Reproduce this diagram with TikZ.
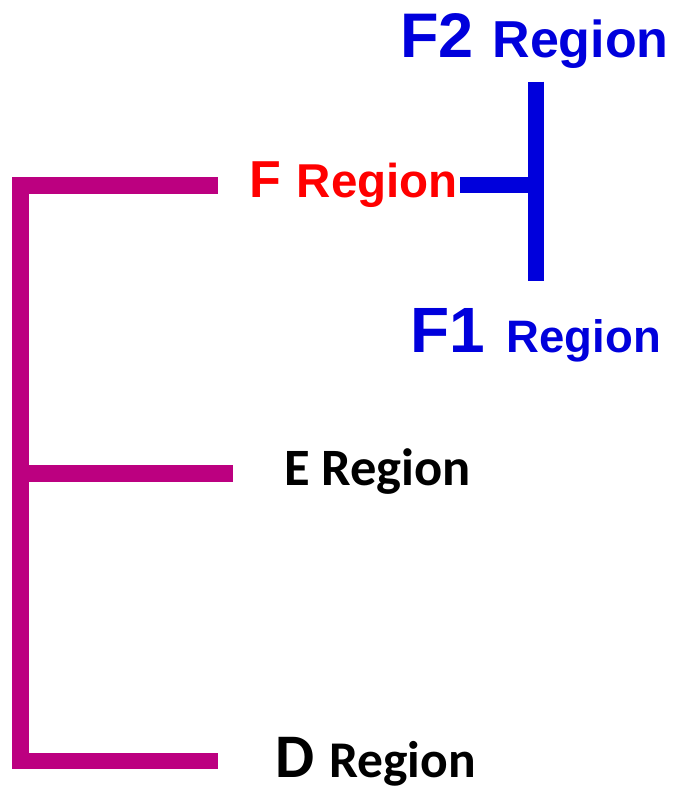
\documentclass[tikz,border=0pt]{standalone}
\usepackage{fontspec}
\setmainfont{Liberation Sans}
\newfontfamily\arialb{Liberation Sans}[BoldFont={* Bold}]
\newfontfamily\calib{Carlito}[BoldFont={* Bold}]
\newcommand{\fsz}[1]{\fontsize{#1}{#1}\selectfont}
\definecolor{barmag}{RGB}{188,0,128}
\definecolor{barblue}{RGB}{0,0,220}
\definecolor{fred}{RGB}{255,0,0}
\tikzset{
  lbl/.style={inner sep=0pt, outer sep=0pt, anchor=base west},
  magbar/.style={draw=barmag, line width=16.5pt},
  bluebar/.style={draw=barblue, line width=16.5pt}
}
\begin{document}
\begin{tikzpicture}[x=1pt,y=-1pt]
\useasboundingbox (0,0) rectangle (677,791);
% labels
\node[lbl, text=barblue, font=\arialb\bfseries] (f2) at (400,57.3) {{\fsz{63}F2}\hspace{19pt}{\fsz{52}Region}};
\node[lbl, text=barblue, font=\arialb\bfseries] (f1) at (410,352.7) {{\fsz{64}F1}\hspace{22pt}{\fsz{45.5}Region}};
\node[lbl, text=fred, font=\arialb\bfseries] (f) at (249,197.7) {{\fsz{52}F}\hspace{16pt}{\fsz{47.5}Region}};
\node[lbl, text=black, font=\calib\bfseries] (e) at (284,485) {\fsz{52.5}E Region};
\node[lbl, text=black, font=\calib\bfseries] (d) at (275,777) {{\fsz{62}D}\hspace{15pt}{\fsz{51.5}Region}};
% magenta bracket
\coordinate (mtop) at (20.5,177.7);
\coordinate (mbot) at (20.5,769.3);
\coordinate (mtl) at (12,185.5);
\coordinate (mtr) at (217.7,185.5);
\coordinate (mel) at (29,473);
\coordinate (mer) at (233,473);
\coordinate (mdl) at (12,761);
\coordinate (mdr) at (217.7,761);
\draw[magbar, line width=17pt] (mtop) -- (mbot);
\draw[magbar] (mtl) -- (mtr);
\draw[magbar, line width=17pt] (mel) -- (mer);
\draw[magbar] (mdl) -- (mdr);
% blue bracket
\coordinate (btop) at (536.3,81.7);
\coordinate (bbot) at (536.3,280.7);
\coordinate (bhl) at (460,185);
\coordinate (bhr) at (536.3,185);
\draw[bluebar, line width=16pt] (btop) -- (bbot);
\draw[bluebar] (bhl) -- (bhr);
\end{tikzpicture}
\end{document}
